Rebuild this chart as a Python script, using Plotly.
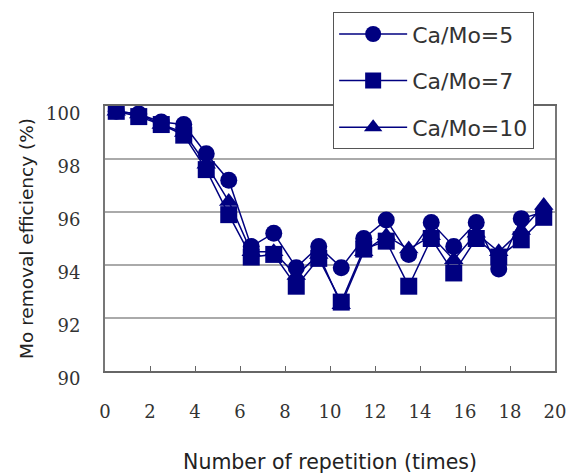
import plotly.graph_objects as go

repetition = list(range(1, 21))
ca_mo_5 = [99.8, 99.7, 99.4, 99.3, 98.2, 97.2, 94.7, 95.2, 93.9, 94.7,
           93.9, 95.0, 95.7, 94.4, 95.6, 94.7, 95.6, 93.85, 95.75, 96.0]
ca_mo_7 = [99.8, 99.6, 99.3, 98.9, 97.6, 95.9, 94.3, 94.4, 93.2, 94.25,
           92.6, 94.6, 94.9, 93.2, 95.0, 93.7, 95.0, 94.3, 94.95, 95.8]
ca_mo_10 = [99.8, 99.7, 99.3, 99.0, 97.8, 96.4, 94.5, 94.5, 93.6, 94.4,
            92.5, 94.5, 95.1, 94.6, 95.1, 94.2, 95.2, 94.5, 95.3, 96.25]
series_names = ["Ca/Mo=5", "Ca/Mo=7", "Ca/Mo=10"]
x_tick_labels = ["0", "2", "4", "6", "8", "10", "12", "14", "16", "18", "20"]
x_tick_pos = [0.5 + 2 * i for i in range(11)]
y_ticks = [90, 92, 94, 96, 98, 100]

navy = "#000080"
serif = "DejaVu Serif"
sans = "DejaVu Sans"

fig = go.Figure()
for name, vals, sym in zip(series_names, [ca_mo_5, ca_mo_7, ca_mo_10],
                           ["circle", "square", "triangle-up"]):
    fig.add_trace(go.Scatter(
        x=repetition, y=vals, name=name, mode="lines+markers",
        legendgroup=name,
        line=dict(color=navy, width=1.5),
        marker=dict(symbol=sym, size=17, color=navy, line=dict(width=0)),
    ))

# darker 94 gridline
fig.add_shape(type="line", xref="paper", yref="y", x0=0, x1=1, y0=94, y1=94,
              line=dict(color="#222222", width=1), layer="below")

fig.update_layout(
    width=586, height=475,
    margin=dict(l=105, r=31, t=103, b=104),
    paper_bgcolor="white", plot_bgcolor="white",
    font=dict(family=sans, color="#222222"),
    legend=dict(
        x=0.507, y=1.354, xanchor="left", yanchor="top",
        bgcolor="white", bordercolor="#555555", borderwidth=1,
        font=dict(size=22, family=sans, color="#333333"),
        traceorder="grouped", tracegroupgap=15, itemwidth=68,
    ),
    xaxis=dict(
        range=[0.5, 20.5], tickvals=x_tick_pos, ticktext=x_tick_labels,
        showgrid=False, zeroline=False, automargin=False,
        showline=True, linecolor="#666666", linewidth=1.5, mirror=True,
        ticks="inside", ticklen=5, tickcolor="#666666",
        tickfont=dict(family=serif, size=18, color="#333333"),
        ticklabelstandoff=24,
        title=dict(text="Number of repetition (times)",
                   font=dict(family=sans, size=20.5, color="#222222"),
                   standoff=33),
    ),
    yaxis=dict(
        range=[90, 100], tickvals=y_ticks, automargin=False,
        showgrid=True, gridcolor="#aaaaaa", gridwidth=1.5, zeroline=False,
        showline=True, linecolor="#777777", linewidth=2, mirror=True,
        ticks="", tickfont=dict(family=serif, size=18, color="#333333"),
        ticklabelstandoff=19, ticklabelshift=8,
        title=dict(text="Mo removal efficiency (%)",
                   font=dict(family=sans, size=18.5, color="#222222"),
                   standoff=8),
    ),
)

fig.write_html("out.html")
